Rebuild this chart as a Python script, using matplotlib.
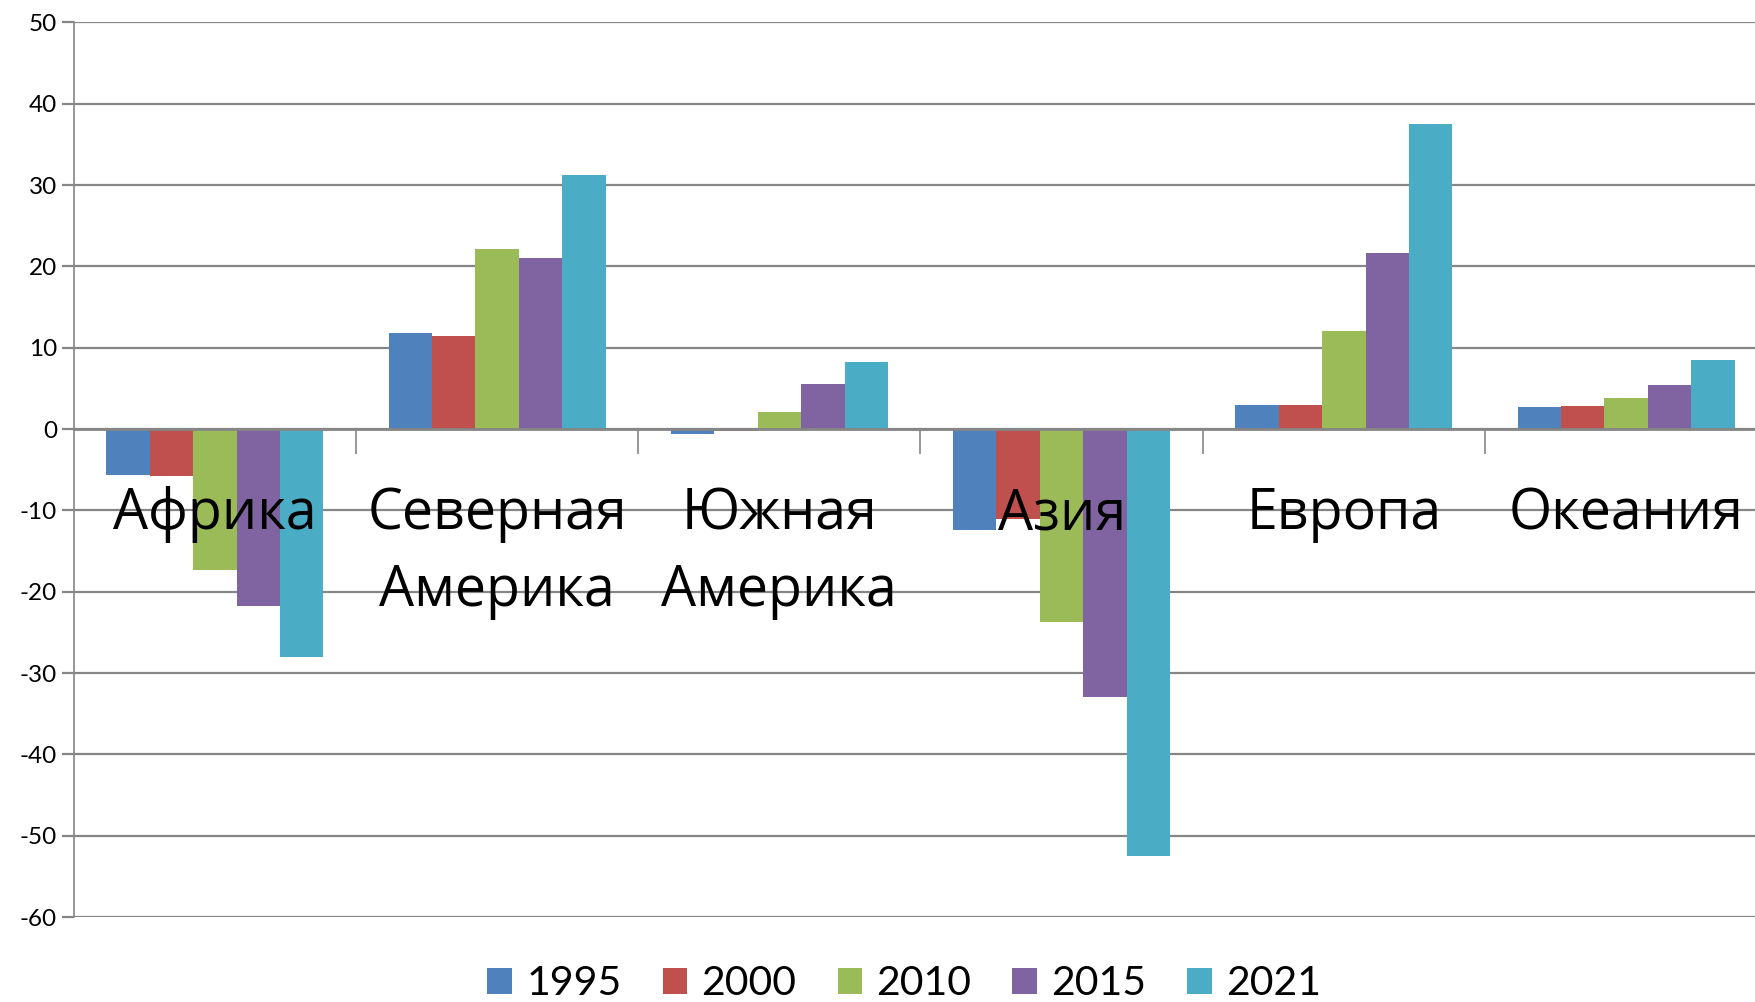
import numpy as np
import matplotlib.pyplot as plt
from matplotlib.patches import Patch

regions = ['Африка', 'Северная\nАмерика', 'Южная\nАмерика', 'Азия', 'Европа', 'Океания']
years = ['1995', '2000', '2010', '2015', '2021']
colors = ['#4F81BD', '#C0504D', '#9BBB59', '#8064A2', '#4BACC6']

v1995 = [-5.7, 11.8, -0.6, -12.4, 2.9, 2.75]
v2000 = [-5.8, 11.5, -0.2, -11.0, 2.95, 2.8]
v2010 = [-17.3, 22.1, 2.1, -23.7, 12.1, 3.8]
v2015 = [-21.7, 21.0, 5.6, -33.0, 21.7, 5.4]
v2021 = [-28.0, 31.2, 8.2, -52.5, 37.5, 8.5]
series = [v1995, v2000, v2010, v2015, v2021]

yticks = list(range(-60, 51, 10))

fig = plt.figure(figsize=(17.56, 10.02), dpi=100)
ax = fig.add_axes([0.042, 0.0848, 1.0064 - 0.042, 0.9776 - 0.0848])

x = np.arange(len(regions))
n = len(series)
bw = (n / (n + 1.5)) / n
for i, (vals, c) in enumerate(zip(series, colors)):
    ax.bar(x + (i - (n - 1) / 2) * bw, vals, width=bw, color=c, zorder=3)

grid_c = '#868686'
ax.set_ylim(-60, 50)
ax.set_xlim(-0.5, len(regions) - 0.5)
ax.set_yticks(yticks)
ax.set_yticklabels([str(t) for t in yticks], fontsize=17.5, family=['Lato', 'DejaVu Sans'])
ax.yaxis.grid(True, color=grid_c, linewidth=1.6, zorder=0)
ax.tick_params(axis='y', length=9, width=1.6, color=grid_c, pad=3)

for s in ['top', 'right']:
    ax.spines[s].set_visible(False)
ax.spines['left'].set_color(grid_c)
ax.spines['left'].set_linewidth(1.2)
ax.spines['bottom'].set_position(('data', 0))
ax.spines['bottom'].set_color(grid_c)
ax.spines['bottom'].set_linewidth(2.0)
ax.spines['bottom'].set_zorder(4)

# category labels drawn above the bars
ax.set_xticks([])
ax.set_xticks(np.arange(1, len(regions)) - 0.5, minor=True)
ax.tick_params(axis='x', which='minor', length=18, width=1.2, color=grid_c, direction='out')
for xi, name in zip(x, regions):
    ax.annotate(name, (xi, 0), xytext=(0, -41), textcoords='offset points',
                ha='center', va='top', fontsize=40, family=['Open Sans', 'DejaVu Sans'],
                linespacing=1.46, zorder=10)

handles = [Patch(facecolor=c, label=y) for c, y in zip(colors, years)]
fig.legend(handles=handles, loc='center', bbox_to_anchor=(0.515, 0.018), ncol=5,
           frameon=False, prop={'family': ['Lato', 'DejaVu Sans'], 'size': 29.5},
           handlelength=0.6, handleheight=0.6, handletextpad=0.35, columnspacing=1.0,
           borderpad=0)

fig.savefig('out.png', dpi=100)
